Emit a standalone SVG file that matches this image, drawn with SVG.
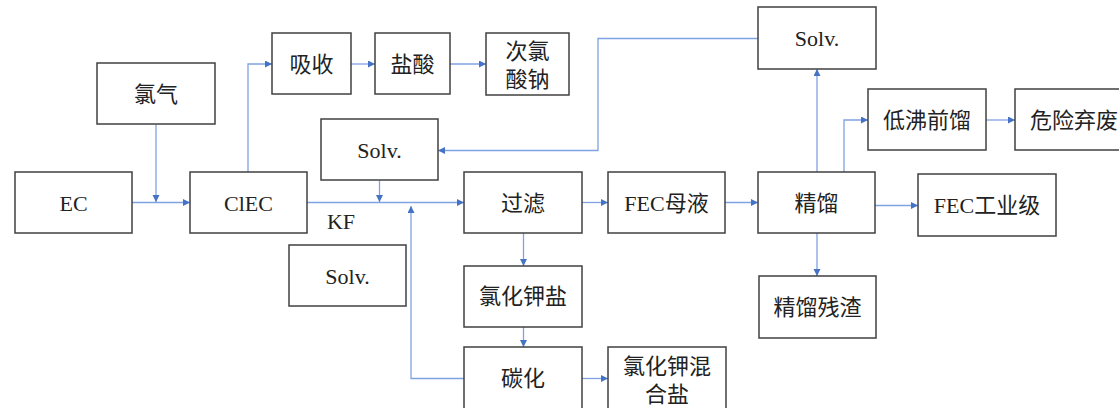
<svg xmlns="http://www.w3.org/2000/svg" width="1119" height="408" viewBox="0 0 1119 408">
<style>
.box{fill:#fff;stroke:#404040;stroke-width:1.5}
.t{font-family:"Liberation Serif","Noto Sans CJK SC",serif;font-size:22px;fill:#222;text-anchor:middle;dominant-baseline:central}
.c{fill:none;stroke:#7fa2e2;stroke-width:1.3}
</style>
<defs>
<marker id="ah" markerUnits="userSpaceOnUse" markerWidth="8" markerHeight="8" refX="7" refY="3.5" orient="auto">
<path d="M0,0 L7,3.5 L0,7 z" fill="#4472c4"/>
</marker>
</defs>
<rect width="1119" height="408" fill="#fff"/>
<g id="connectors">
<path class="c" d="M132 202.5 H190" marker-end="url(#ah)"/>
<path class="c" d="M156 124.5 V202" marker-end="url(#ah)"/>
<path class="c" d="M248 172 V64 H272" marker-end="url(#ah)"/>
<path class="c" d="M351 64 H375" marker-end="url(#ah)"/>
<path class="c" d="M450 64 H486" marker-end="url(#ah)"/>
<path class="c" d="M307 202.5 H464" marker-end="url(#ah)"/>
<path class="c" d="M379.5 180.5 V202" marker-end="url(#ah)"/>
<path class="c" d="M464 378.5 H411 V206" marker-end="url(#ah)"/>
<path class="c" d="M582 202.5 H608" marker-end="url(#ah)"/>
<path class="c" d="M725 202.5 H758" marker-end="url(#ah)"/>
<path class="c" d="M875 205.5 H918" marker-end="url(#ah)"/>
<path class="c" d="M817 172 V69" marker-end="url(#ah)"/>
<path class="c" d="M758 38.5 H598 V150.5 H438" marker-end="url(#ah)"/>
<path class="c" d="M844 172 V120 H868" marker-end="url(#ah)"/>
<path class="c" d="M986 120 H1015" marker-end="url(#ah)"/>
<path class="c" d="M817 233 V276" marker-end="url(#ah)"/>
<path class="c" d="M523.5 233 V266" marker-end="url(#ah)"/>
<path class="c" d="M523.5 327 V347" marker-end="url(#ah)"/>
<path class="c" d="M582 378.5 H608" marker-end="url(#ah)"/>
</g>
<g id="n-ec"><rect class="box" x="15" y="172" width="117" height="61"/><text class="t" x="73.5" y="203">EC</text></g>
<g id="n-clec"><rect class="box" x="190" y="172" width="117" height="61"/><text class="t" x="248.5" y="203">ClEC</text></g>
<g id="n-cl2"><rect class="box" x="97" y="63" width="118" height="61"/><text class="t" x="156" y="94">氯气</text></g>
<g id="n-absorb"><rect class="box" x="272" y="33" width="79" height="61"/><text class="t" x="311.5" y="64">吸收</text></g>
<g id="n-hcl"><rect class="box" x="375" y="33" width="75" height="61"/><text class="t" x="412.5" y="64">盐酸</text></g>
<g id="n-naclo"><rect class="box" x="486" y="33" width="83" height="62"/><text class="t" x="527.5" y="51.5">次氯</text><text class="t" x="527.5" y="79">酸钠</text></g>
<g id="n-solv1"><rect class="box" x="321" y="119" width="117" height="61"/><text class="t" x="379.5" y="150">Solv.</text></g>
<g id="n-kf"><text class="t" x="341" y="221">KF</text></g>
<g id="n-solv2"><rect class="box" x="289" y="245" width="117" height="61"/><text class="t" x="347.5" y="276">Solv.</text></g>
<g id="n-filter"><rect class="box" x="464" y="172" width="118" height="61"/><text class="t" x="523" y="203">过滤</text></g>
<g id="n-kcl"><rect class="box" x="464" y="266" width="118" height="61"/><text class="t" x="523" y="296.5">氯化钾盐</text></g>
<g id="n-carb"><rect class="box" x="464" y="347" width="118" height="62"/><text class="t" x="523" y="378">碳化</text></g>
<g id="n-mix"><rect class="box" x="608" y="347" width="118" height="62"/><text class="t" x="667" y="366">氯化钾混</text><text class="t" x="667" y="394">合盐</text></g>
<g id="n-mother"><rect class="box" x="608" y="172" width="117" height="61"/><text class="t" x="666.5" y="203">FEC母液</text></g>
<g id="n-distill"><rect class="box" x="758" y="172" width="117" height="61"/><text class="t" x="816.5" y="203">精馏</text></g>
<g id="n-solv3"><rect class="box" x="758" y="7" width="118" height="62"/><text class="t" x="817" y="38">Solv.</text></g>
<g id="n-low"><rect class="box" x="868" y="89" width="118" height="61"/><text class="t" x="927" y="120">低沸前馏</text></g>
<g id="n-waste"><rect class="box" x="1015" y="89" width="120" height="61"/><text class="t" x="1074" y="120">危险弃废</text></g>
<g id="n-fec"><rect class="box" x="918" y="174" width="138" height="62"/><text class="t" x="987" y="205">FEC工业级</text></g>
<g id="n-residue"><rect class="box" x="759" y="276" width="117" height="62"/><text class="t" x="817.5" y="307">精馏残渣</text></g>
</svg>
